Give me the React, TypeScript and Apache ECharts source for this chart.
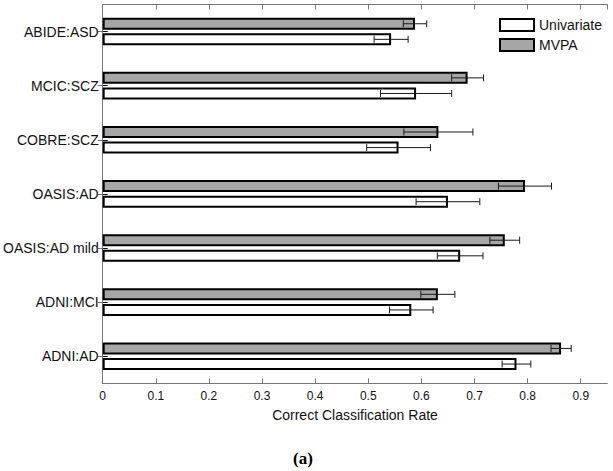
import React, { useEffect, useRef } from "react";
import * as echarts from "echarts";

const categories = [
  "ABIDE:ASD",
  "MCIC:SCZ",
  "COBRE:SCZ",
  "OASIS:AD",
  "OASIS:AD mild",
  "ADNI:MCI",
  "ADNI:AD",
];
const univariate = [0.543, 0.59, 0.557, 0.65, 0.673, 0.581, 0.779];
const univariateErr = [0.032, 0.067, 0.06, 0.06, 0.043, 0.041, 0.027];
const mvpa = [0.588, 0.687, 0.632, 0.795, 0.757, 0.631, 0.863];
const mvpaErr = [0.022, 0.03, 0.065, 0.05, 0.028, 0.032, 0.019];
const xTicks = { min: 0, max: 0.95, interval: 0.1 };

const FONT = "Liberation Sans, Arial, sans-serif";
const BAR_W = 12;
const BAR_GAP = 0.3;
const HALF = (BAR_W * (1 + BAR_GAP)) / 2;

function errData(vals: number[], errs: number[]) {
  return vals.map((v, i) => [i, v - errs[i], v + errs[i]]);
}

function errSeries(name: string, vals: number[], errs: number[], offset: number) {
  return {
    type: "custom",
    name: name + " err",
    data: errData(vals, errs),
    encode: { x: [1, 2], y: 0 },
    z: 5,
    silent: true,
    renderItem: (params: any, api: any) => {
      const cat = api.value(0);
      const a = api.coord([api.value(1), cat]);
      const b = api.coord([api.value(2), cat]);
      const y = a[1] + offset;
      const st = { stroke: "#1a1a1a", lineWidth: 1 };
      return {
        type: "group",
        children: [
          { type: "line", shape: { x1: a[0], y1: y, x2: b[0], y2: y }, style: st },
          { type: "line", shape: { x1: a[0], y1: y - 3.5, x2: a[0], y2: y + 3.5 }, style: st },
          { type: "line", shape: { x1: b[0], y1: y - 3.5, x2: b[0], y2: y + 3.5 }, style: st },
        ],
      };
    },
  };
}

export default function App() {
  const ref = useRef<HTMLDivElement>(null);
  useEffect(() => {
    const chart = echarts.init(ref.current!, null, { renderer: "svg" });
    const frame = { lineStyle: { color: "#777", width: 1 } };
    chart.setOption({
      animation: false,
      backgroundColor: "#fff",
      grid: { left: 101.7, right: 5.7, top: 4.5, bottom: 87.7, containLabel: false },
      legend: {
        orient: "vertical",
        left: 494,
        top: 13,
        itemWidth: 34,
        itemHeight: 12,
        itemGap: 6,
        itemTextGap: 5,
        icon: "rect",
        data: [
          { name: "Univariate", itemStyle: { color: "#ffffff", borderColor: "#000", borderWidth: 2 } },
          { name: "MVPA", itemStyle: { color: "#a6a6a6", borderColor: "#000", borderWidth: 2 } },
        ],
        textStyle: { fontFamily: FONT, fontSize: 14, color: "#111" },
      },
      xAxis: [
        {
          type: "value",
          min: xTicks.min,
          max: xTicks.max,
          interval: xTicks.interval,
          position: "bottom",
          axisLine: { show: true, ...frame },
          axisTick: { show: true, inside: true, length: 5, lineStyle: { color: "#777" } },
          splitLine: { show: false },
          axisLabel: {
            showMaxLabel: false,
            margin: 7,
            fontFamily: FONT,
            fontSize: 12,
            color: "#111",
            formatter: (v: number) => String(Math.round(v * 10) / 10),
          },
          name: "Correct Classification Rate",
          nameLocation: "middle",
          nameGap: 25,
          nameTextStyle: { fontFamily: FONT, fontSize: 14, color: "#111" },
        },
        {
          type: "value",
          min: xTicks.min,
          max: xTicks.max,
          interval: xTicks.interval,
          position: "top",
          axisLine: { show: true, ...frame },
          axisTick: { show: true, inside: true, length: 5, lineStyle: { color: "#777" } },
          splitLine: { show: false },
          axisLabel: { show: false },
        },
      ],
      yAxis: [
        {
          type: "category",
          data: categories,
          inverse: true,
          position: "left",
          axisLine: { show: true, ...frame },
          axisTick: { show: true, inside: true, length: 5, alignWithLabel: true, lineStyle: { color: "#111" } },
          axisLabel: { margin: 4, fontFamily: FONT, fontSize: 14, color: "#111" },
        },
        {
          type: "category",
          data: categories,
          inverse: true,
          position: "right",
          axisLine: { show: true, ...frame },
          axisTick: { show: true, inside: true, length: 5, alignWithLabel: true, lineStyle: { color: "#777" } },
          axisLabel: { show: false },
        },
      ],
      series: [
        {
          type: "bar",
          name: "MVPA",
          data: mvpa,
          barWidth: BAR_W,
          barGap: BAR_GAP * 100 + "%",
          itemStyle: { color: "#a6a6a6", borderColor: "#000", borderWidth: 2 },
          z: 2,
        },
        {
          type: "bar",
          name: "Univariate",
          data: univariate,
          barWidth: BAR_W,
          barGap: BAR_GAP * 100 + "%",
          itemStyle: { color: "#ffffff", borderColor: "#000", borderWidth: 2 },
          z: 2,
        },
        errSeries("MVPA", mvpa, mvpaErr, -HALF),
        errSeries("Univariate", univariate, univariateErr, HALF),
      ],
      graphic: [
        {
          type: "text",
          x: 303,
          y: 458,
          style: {
            text: "(a)",
            font: "bold 17px 'Liberation Serif', 'Times New Roman', serif",
            fill: "#000",
            textAlign: "center",
            textVerticalAlign: "middle",
          },
        },
      ],
    });
    return () => chart.dispose();
  }, []);
  return (
    <div
      ref={ref}
      style={{ position: "fixed", left: 0, top: 0, width: 613, height: 471 }}
    />
  );
}
